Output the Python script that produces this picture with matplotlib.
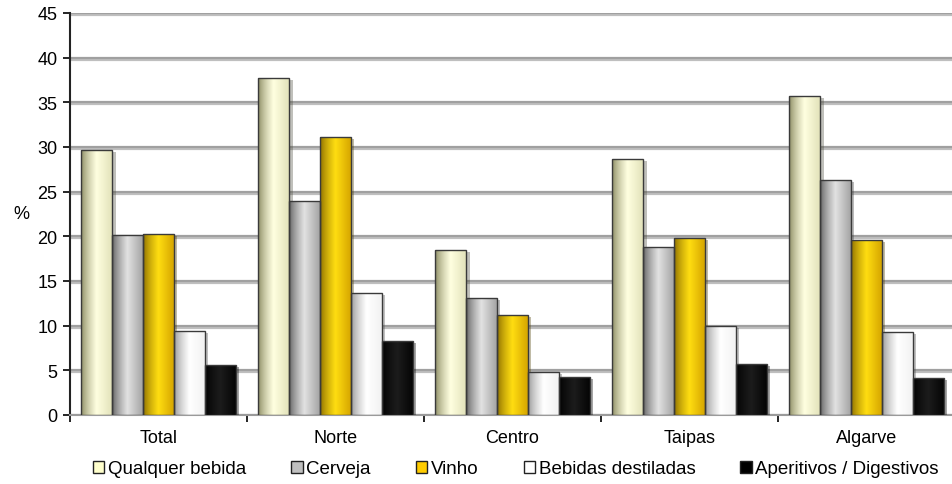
import numpy as np
import matplotlib.pyplot as plt
from matplotlib.colors import to_rgb
from matplotlib.patches import Patch
import matplotlib.patheffects as pe

regions = ['Total', 'Norte', 'Centro', 'Taipas', 'Algarve']
series = ['Qualquer bebida', 'Cerveja', 'Vinho', 'Bebidas destiladas', 'Aperitivos / Digestivos']

qualquer = [29.7, 37.7, 18.5, 28.7, 35.7]
cerveja = [20.1, 24.0, 13.1, 18.8, 26.3]
vinho = [20.3, 31.1, 11.2, 19.8, 19.6]
destiladas = [9.4, 13.7, 4.8, 10.0, 9.3]
aperitivos = [5.6, 8.3, 4.3, 5.7, 4.1]

values = [qualquer, cerveja, vinho, destiladas, aperitivos]

legend_colors = ['#FFFFCC', '#C0C0C0', '#FFCC00', '#FFFFFF', '#000000']
# left / middle / right shades for the cylinder-like fill
shades = [
    ('#85855c', '#ffffe0', '#e3e3bb'),
    ('#5a5a5a', '#e2e2e2', '#a4a4a4'),
    ('#866800', '#ffdd11', '#d6a600'),
    ('#939393', '#ffffff', '#f2f2f2'),
    ('#000000', '#1c1c1c', '#050505'),
]

plt.rcParams['font.family'] = ['Liberation Sans', 'DejaVu Sans']
plt.rcParams['font.size'] = 13


def gradient(left, mid, right, n=64):
    t = np.linspace(0, 1, n)
    c0, c1, c2 = (np.array(to_rgb(c)) for c in (left, mid, right))
    out = np.empty((1, n, 3))
    for i, v in enumerate(t):
        if v < 0.5:
            out[0, i] = c0 + (c1 - c0) * (v / 0.5) ** 0.7
        else:
            out[0, i] = c1 + (c2 - c1) * ((v - 0.5) / 0.5)
    return out


fig = plt.figure(figsize=(9.52, 4.85), dpi=100)
ax = fig.add_axes([70 / 952, 69 / 485, 885 / 952, 402 / 485])

x = np.arange(len(regions))
width = 0.175
offsets = (np.arange(len(series)) - 2) * width

for vals, off, col, sh in zip(values, offsets, legend_colors, shades):
    bars = ax.bar(x + off, vals, width, color=col, edgecolor='none', zorder=3,
                  path_effects=[pe.SimplePatchShadow(offset=(2.5, -1.5), alpha=0.35),
                                pe.Normal()])
    img = gradient(*sh)
    for b in bars:
        x0, w, h = b.get_x(), b.get_width(), b.get_height()
        im = ax.imshow(img, extent=(x0, x0 + w, 0, h), aspect='auto',
                       interpolation='bilinear', zorder=4)
        im.set_clip_path(b)
    ax.bar(x + off, vals, width, facecolor='none', edgecolor='#3a3a3a',
           linewidth=1.0, zorder=5)

ax.set_xlim(-0.5, len(regions) - 0.5)
ax.set_ylim(0, 45)
ax.set_yticks(np.arange(0, 46, 5))
ax.set_xticks(x)
ax.set_xticklabels(regions)
ax.set_xticks(np.arange(len(regions)) - 0.5, minor=True)
ax.tick_params(axis='x', which='major', length=0, pad=10)
ax.tick_params(axis='x', which='minor', length=5, width=1.2, color='black')
ax.tick_params(axis='y', length=5, width=1.2, pad=4)

ax.yaxis.grid(True, color='#a0a0a0', linewidth=1.6, zorder=0,
              path_effects=[pe.SimpleLineShadow(offset=(0, -1.5), alpha=0.25), pe.Normal()])
ax.set_axisbelow(True)

for s in ['top', 'right']:
    ax.spines[s].set_visible(False)
ax.spines['left'].set_linewidth(1.5)
ax.spines['left'].set_color('#222222')
ax.spines['bottom'].set_linewidth(1.5)
ax.spines['bottom'].set_color('#9a9a9a')

ax.set_ylabel('%', rotation=0, va='center')
ax.yaxis.set_label_coords(-0.055, 0.5)

handles = [Patch(facecolor=c, edgecolor='#222222', linewidth=1.0) for c in legend_colors]
fig.legend(handles, series, loc='center', bbox_to_anchor=(0.542, 0.031), ncol=5,
           frameon=False, handlelength=0.6, handleheight=0.6, handletextpad=0.2,
           columnspacing=2.4, fontsize=13.5)

plt.savefig('out.png', dpi=100)
